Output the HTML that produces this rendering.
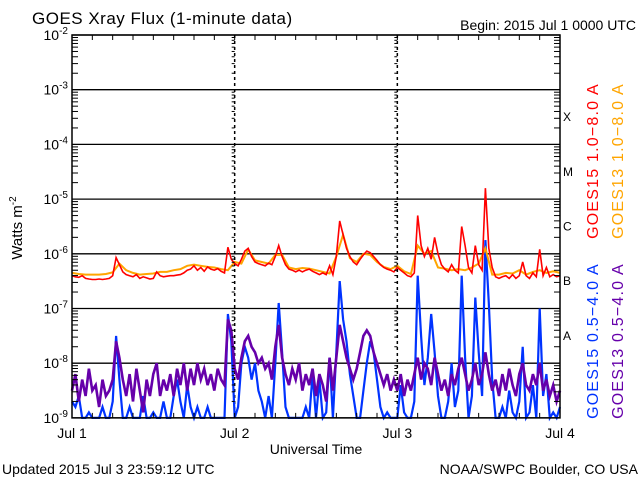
<!DOCTYPE html>
<html><head><meta charset="utf-8"><style>
body{margin:0;background:#fff;}
svg text{font-family:"Liberation Sans",sans-serif;}
</style></head><body>
<svg id="chart" width="640" height="480" viewBox="0 0 640 480" xmlns="http://www.w3.org/2000/svg">
<rect width="640" height="480" fill="#fff"/>
<text x="32" y="24" font-size="17" letter-spacing="0.5">GOES Xray Flux (1-minute data)</text>
<text x="636" y="30" font-size="14" text-anchor="end">Begin:  2015 Jul 1 0000 UTC</text>
<text transform="translate(22,228) rotate(-90)" font-size="15" text-anchor="middle">Watts m<tspan font-size="10" dy="-6">-2</tspan></text>
<text x="316" y="454" font-size="14" text-anchor="middle">Universal Time</text>
<text x="2" y="474" font-size="14">Updated 2015 Jul  3 23:59:12 UTC</text>
<text x="638" y="474" font-size="14" text-anchor="end">NOAA/SWPC Boulder, CO USA</text>
<g id="grid"></g>
<g id="series"></g>
<g id="axes"></g>
<text transform="translate(598,161) rotate(-90)" font-size="16" letter-spacing="1.2" fill="#ff0000" text-anchor="middle">GOES15 1.0−8.0 A</text>
<text transform="translate(623,161) rotate(-90)" font-size="16" letter-spacing="1.2" fill="#ffa500" text-anchor="middle">GOES13 1.0−8.0 A</text>
<text transform="translate(598,341) rotate(-90)" font-size="16" letter-spacing="1.2" fill="#0033ff" text-anchor="middle">GOES15 0.5−4.0 A</text>
<text transform="translate(623,341) rotate(-90)" font-size="16" letter-spacing="1.2" fill="#6600aa" text-anchor="middle">GOES13 0.5−4.0 A</text>
</svg>
<script>
const dayLabels=["Jul 1","Jul 2","Jul 3","Jul 4"];
const decadeExps=[-2,-3,-4,-5,-6,-7,-8,-9];
const classLabels=["X","M","C","B","A"];
const classExps=[-4,-5,-6,-7,-8];
// GOES15 long (log10 W/m2), every 30 min from Jul 1 00:00
const goes15Long=[-6.40,-6.42,-6.43,-6.40,-6.45,-6.46,-6.47,-6.47,-6.46,-6.47,-6.46,-6.45,-6.40,
-6.07,-6.20,-6.33,-6.38,-6.40,-6.42,-6.38,-6.45,-6.42,-6.44,-6.46,-6.45,-6.33,-6.40,-6.42,-6.41,-6.40,-6.40,-6.39,-6.38,-6.35,-6.30,-6.28,-6.22,-6.30,-6.25,-6.32,-6.24,-6.28,-6.30,-6.27,-6.32,-6.35,-5.88,-6.10,-6.18,-6.22,-6.10,-5.95,-5.90,-6.05,-6.15,-6.18,-6.20,-6.22,-6.17,-6.20,-6.05,-5.85,-6.05,-6.20,-6.28,-6.30,-6.33,-6.30,-6.33,-6.30,-6.28,-6.32,-6.35,-6.38,-6.35,-6.38,-6.22,-6.38,-6.05,-5.40,-5.65,-5.90,-6.05,-6.15,-6.20,-6.10,-6.02,-5.95,-5.98,-6.05,-6.12,-6.20,-6.25,-6.28,-6.30,-6.33,-6.25,-6.30,-6.35,-6.40,-6.42,-6.35,-5.30,-5.85,-6.05,-5.90,-6.10,-5.70,-6.00,-6.20,-6.28,-6.33,-6.20,-6.30,-6.35,-5.50,-5.85,-6.25,-6.35,-5.85,-6.20,-6.30,-4.80,-5.90,-6.25,-6.42,-6.45,-6.42,-6.40,-6.45,-6.38,-6.45,-6.40,-6.15,-6.40,-6.45,-6.35,-6.42,-5.92,-6.40,-6.25,-6.42,-6.38,-6.42,-6.40];
// GOES13 long, hourly
const goes13Long=[-6.35,-6.37,-6.38,-6.38,-6.38,-6.37,-6.34,-6.18,-6.30,-6.35,-6.38,-6.37,-6.36,-6.33,-6.33,-6.30,-6.28,-6.22,-6.20,-6.22,-6.24,-6.25,-6.28,-6.30,-6.15,-6.18,-5.92,-6.12,-6.15,-6.18,-6.02,-6.02,-6.25,-6.28,-6.26,-6.27,-6.30,-6.33,-6.36,-6.05,-5.65,-6.08,-6.15,-6.00,-6.02,-6.15,-6.24,-6.28,-6.22,-6.32,-6.37,-5.85,-6.00,-5.95,-6.25,-6.27,-6.30,-6.28,-6.30,-6.25,-6.18,-5.90,-6.38,-6.38,-6.35,-6.36,-6.30,-6.38,-6.33,-6.30,-6.35,-6.32,-6.35];
// GOES13 short, every 30 min
const goes13Short=[-8.5,-8.2,-8.7,-8.3,-8.6,-8.1,-8.5,-8.4,-8.8,-8.3,-8.6,-8.5,-8.3,
-7.6,-7.9,-8.3,-8.6,-8.2,-8.7,-8.1,-8.5,-8.9,-8.3,-8.6,-8.2,-8.0,-8.6,-8.3,-8.5,-8.2,-8.6,-8.1,-8.4,-8.0,-8.5,-8.1,-8.4,-8.0,-8.3,-8.1,-8.4,-8.2,-8.5,-8.1,-8.3,-8.4,-7.2,-7.4,-8.1,-8.3,-7.9,-7.6,-7.5,-7.7,-7.8,-8.0,-7.9,-8.1,-8.0,-8.3,-7.7,-7.3,-7.9,-8.2,-8.4,-8.1,-8.3,-8.0,-8.5,-8.2,-8.4,-8.1,-8.6,-8.2,-8.4,-8.7,-7.9,-8.5,-7.9,-7.3,-7.6,-7.9,-8.1,-8.3,-8.1,-7.8,-7.5,-7.4,-7.5,-7.8,-8.0,-8.2,-8.4,-8.2,-8.5,-8.3,-8.5,-8.2,-8.6,-8.3,-8.5,-8.2,-7.9,-8.3,-8.0,-8.1,-8.4,-7.9,-8.2,-8.5,-8.3,-8.6,-8.2,-8.4,-8.1,-7.9,-8.2,-8.5,-8.3,-8.0,-8.4,-8.2,-7.8,-8.2,-8.5,-8.3,-8.6,-8.2,-8.5,-8.1,-8.4,-8.6,-8.2,-8.0,-8.4,-8.5,-8.2,-8.4,-8.0,-8.5,-8.3,-8.6,-8.4,-8.7,-8.5];
// GOES15 short, every 30 min
const goes15Short=[-8.7,-8.8,-8.6,-9.0,-9.0,-8.9,-9.0,-9.0,-9.0,-8.8,-9.0,-9.0,-8.7,
-7.5,-8.3,-9.0,-9.0,-8.8,-9.0,-9.0,-9.0,-8.6,-9.0,-9.0,-8.9,-9.0,-9.0,-8.7,-9.0,-9.0,-8.6,-8.3,-8.7,-9.0,-8.4,-8.8,-9.0,-8.8,-9.0,-9.0,-8.8,-9.0,-9.0,-9.0,-9.0,-9.0,-7.1,-7.6,-9.0,-8.8,-8.0,-7.7,-7.9,-8.3,-8.0,-8.5,-8.7,-9.0,-8.6,-9.0,-8.0,-6.9,-7.8,-8.8,-9.0,-9.0,-9.0,-9.0,-9.0,-8.8,-9.0,-8.2,-9.0,-8.3,-9.0,-8.9,-7.9,-9.0,-7.8,-6.5,-7.2,-7.6,-8.2,-8.6,-9.0,-9.0,-8.5,-8.0,-7.6,-7.8,-8.3,-8.8,-9.0,-8.9,-9.0,-9.0,-9.0,-8.4,-8.9,-9.0,-9.0,-8.7,-6.4,-7.5,-8.4,-7.9,-7.1,-7.8,-8.6,-9.0,-9.0,-8.7,-8.0,-8.8,-8.5,-6.4,-7.9,-9.0,-8.6,-6.8,-7.8,-8.6,-5.75,-6.9,-8.3,-9.0,-9.0,-8.8,-9.0,-8.5,-8.9,-9.0,-8.7,-7.7,-9.0,-8.9,-8.4,-9.0,-7.0,-8.6,-8.2,-9.0,-8.9,-9.0,-8.8];

const NS="http://www.w3.org/2000/svg";
const X0=72,X1=560,Y0=35,DEC=54.7;
function xH(h){return X0+h*(X1-X0)/72;}
function yL(v){return Y0+(-2-v)*DEC;}
function mk(tag,attrs,parent){const e=document.createElementNS(NS,tag);for(const k in attrs)e.setAttribute(k,attrs[k]);parent.appendChild(e);return e;}
const grid=document.getElementById('grid'),axes=document.getElementById('axes'),ser=document.getElementById('series');

decadeExps.forEach(e=>{
  const y=yL(e);
  const gl=mk('line',{x1:X0,x2:X1,y1:y,y2:y,stroke:'#000','stroke-width':1.3},grid);
  
  
  const t=mk('text',{x:X0-4,y:y+5,'font-size':14,'text-anchor':'end'},axes);
  
  
  t.innerHTML='10<tspan font-size="10" dy="-6">'+e+'</tspan>';
  if(e>-9){for(let m=2;m<=9;m++){const ym=yL(e-1+Math.log10(m));
    mk('line',{x1:X0,x2:X0+6,y1:ym,y2:ym,stroke:'#000'},axes);
    mk('line',{x1:X1,x2:X1-6,y1:ym,y2:ym,stroke:'#000'},axes);
    [1,2].forEach(d=>{const xd=xH(d*24);mk('line',{x1:xd-3,x2:xd,y1:ym,y2:ym,stroke:'#000'},axes);});
  }}
});
classLabels.forEach((c,i)=>{
  const t=mk('text',{x:563,y:yL(classExps[i]+0.5)+4,'font-size':12,'font-family':'Liberation Serif, serif'},axes);
  
  
  t.textContent=c;
});
[1,2].forEach(d=>{
  const l=mk('line',{x1:xH(d*24),x2:xH(d*24),y1:Y0,y2:yL(-9),stroke:'#000','stroke-width':1.5,'stroke-dasharray':'3,3'},grid);
  
  
});
for(let h=3;h<72;h+=3){const x=xH(h);
  mk('line',{x1:x,x2:x,y1:Y0,y2:Y0+5,stroke:'#000'},axes);
  mk('line',{x1:x,x2:x,y1:yL(-9),y2:yL(-9)-5,stroke:'#000'},axes);}
dayLabels.forEach((d,i)=>{
  const t=mk('text',{x:xH(i*24),y:yL(-9)+20,'font-size':14,'text-anchor':'middle'},axes);
  
  
  t.textContent=d;
});
const frame=mk('rect',{x:X0,y:Y0,width:X1-X0,height:yL(-9)-Y0,fill:'none',stroke:'#000','stroke-width':1.5},axes);



function line(arr,stepH,color,name,w){
  const pts=arr.map((v,i)=>xH(i*stepH).toFixed(1)+','+yL(Math.max(v,-9)).toFixed(1)).join(' ');
  const p=mk('polyline',{points:pts,fill:'none',stroke:color,'stroke-width':w,'stroke-linejoin':'miter'},ser);
  
  
}
line(goes15Short,0.5,'#0033ff','series-goes15-short',2.2);
line(goes13Short,0.5,'#6600aa','series-goes13-short',2.6);
line(goes13Long,1,'#ffa500','series-goes13-long',2);
line(goes15Long,0.5,'#ff0000','series-goes15-long',1.6);
</script>
</body></html>
